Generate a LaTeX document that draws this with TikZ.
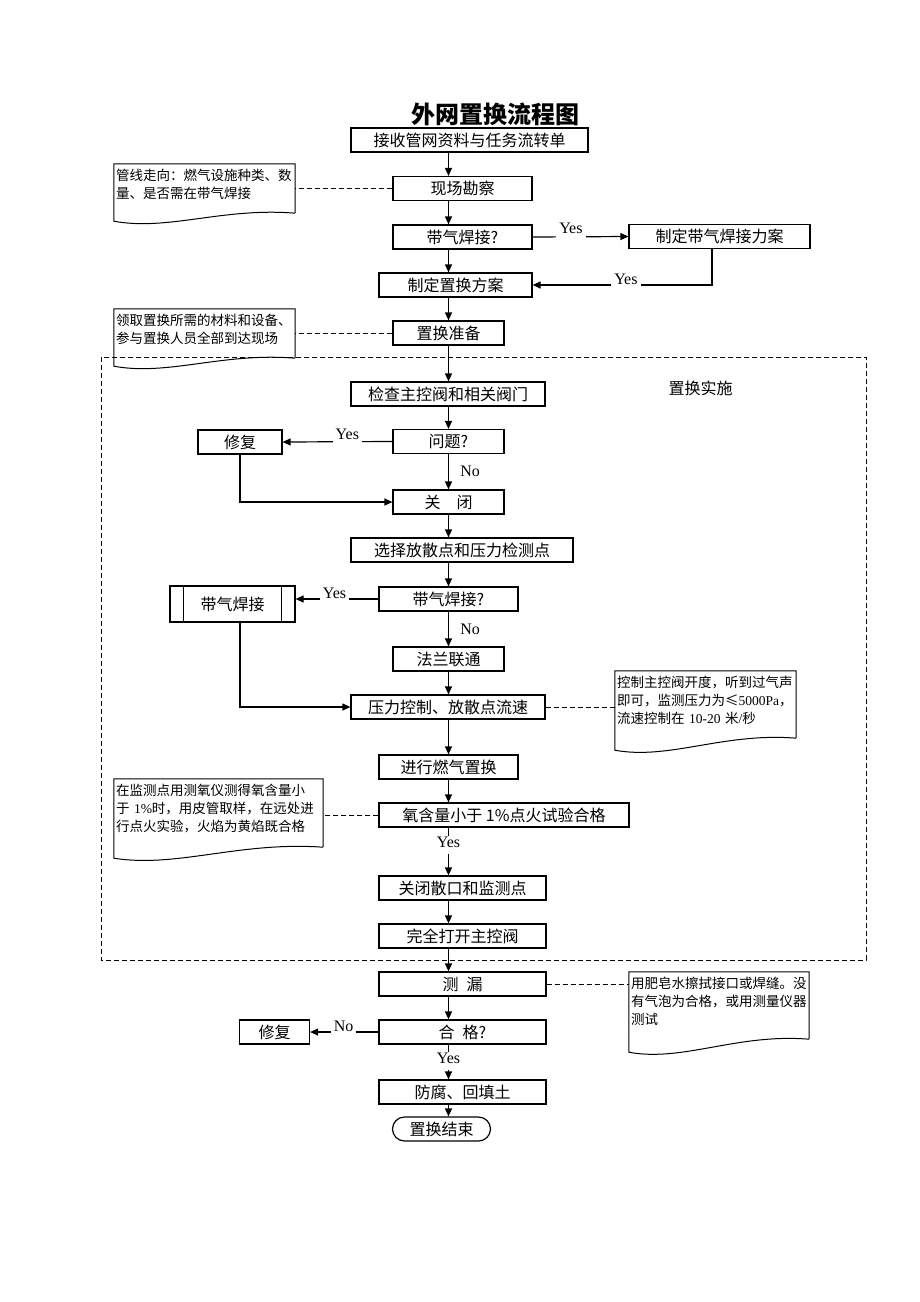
\documentclass[tikz,border=0pt]{standalone}
\usepackage{fontspec}
\setmainfont{Liberation Serif}
\newfontfamily\cjk{Noto Sans CJK SC}
\usepackage{tikz}
\usetikzlibrary{arrows.meta,positioning,calc}

\tikzset{
  procbox/.style={draw,line width=1.2pt,minimum height=24pt,inner sep=0pt,
    font=\cjk\fontsize{16}{18}\selectfont},
  arr/.style={line width=1.2pt,-{Triangle[length=8pt,width=7pt]}},
  plain/.style={line width=1.2pt},
  dashline/.style={line width=1pt,dash pattern=on 5pt off 3pt},
  noteframe/.style={inner sep=0pt},
  notetext/.style={anchor=north west,inner xsep=2pt,inner ysep=5pt,align=left,
    font=\cjk\fontsize{13.5}{18}\selectfont},
  yn/.style={fill=white,inner xsep=3pt,inner ysep=0pt,text height=12pt,text depth=6pt,
    font=\fontsize{16}{18}\selectfont},
  ynh/.style={yn,anchor=base},
}

% note with a wavy lower edge, #2 = how far the left corner hangs below
\newcommand{\wavenote}[2]{%
  \draw[line width=1pt] (#1.south east) -- (#1.north east) -- (#1.north west)
    -- ($(#1.south west)+(0,#2)$)
    .. controls ($(#1.south west)!0.3!(#1.south east)+(0,#2+10)$)
    and ($(#1.south west)!0.6!(#1.south east)+(0,-6)$) .. (#1.south east);}

\begin{document}
\begin{tikzpicture}[x=1pt,y=-1pt]

  \fill[white] (0,0) rectangle (920,1302);
  \coordinate (ax) at (448.5,0);

  \node[font=\cjk\fontsize{24}{28}\selectfont\bfseries] (title) at (495,114) {外网置换流程图};

  % main column
  \node[procbox,minimum width=237pt] (recv) at (469.5,140) {接收管网资料与任务流转单};
  \node[procbox,minimum width=139pt] (survey) at (462.5,188.5) {现场勘察};
  \node[procbox,minimum width=139pt] (weldq) at (462.5,237) {带气焊接?};
  \node[procbox,minimum width=181pt] (weldplan) at (719.5,236.5) {制定带气焊接力案};
  \node[procbox,minimum width=153pt] (plan) at (455.5,285) {制定置换方案};
  \node[procbox,minimum width=111pt] (prep) at (448.5,333) {置换准备};

  % implementation frame
  \draw[dashline] (101,357) rectangle (866,960);
  \node[font=\cjk\fontsize{16}{18}\selectfont] (stage) at (700.5,388) {置换实施};

  \node[procbox,minimum width=194pt] (check) at (448,394) {检查主控阀和相关阀门};
  \node[procbox,minimum width=111pt] (issue) at (448.5,441.5) {问题?};
  \node[procbox,minimum width=84pt] (fix1) at (240,442) {修复};
  \node[procbox,minimum width=111pt] (close) at (448.5,502) {关\hspace{1em}闭};
  \node[procbox,minimum width=222pt] (choose) at (462,550) {选择放散点和压力检测点};
  \node[procbox,minimum width=139pt] (weldq2) at (448.5,599) {带气焊接?};
  \node[procbox,minimum width=125pt,minimum height=36pt] (weld) at (232.5,604) {带气焊接};
  \draw[plain] ([xshift=14pt]weld.north west) -- ([xshift=14pt]weld.south west);
  \draw[plain] ([xshift=-14pt]weld.north east) -- ([xshift=-14pt]weld.south east);
  \node[procbox,minimum width=111pt] (flange) at (448.5,659) {法兰联通};
  \node[procbox,minimum width=194pt] (press) at (448,707) {压力控制、放散点流速};
  \node[procbox,minimum width=139pt] (purge) at (448.5,767) {进行燃气置换};
  \node[procbox,minimum width=250pt] (oxy) at (504,815) {氧含量小于 1\%点火试验合格};
  \node[procbox,minimum width=167pt] (shut) at (462.5,888) {关闭散口和监测点};
  \node[procbox,minimum width=167pt] (open) at (462.5,936) {完全打开主控阀};

  % after the frame
  \node[procbox,minimum width=167pt] (leak) at (462.5,984) {测\hspace{0.5em}漏};
  \node[procbox,minimum width=167pt] (pass) at (462.5,1032) {合\hspace{0.5em}格?};
  \node[procbox,minimum width=70pt] (fix2) at (274.5,1032) {修复};
  \node[procbox,minimum width=167pt] (backfill) at (462.5,1092) {防腐、回填土};
  \node[procbox,minimum width=98pt,rounded corners=12pt] (finish) at (441.5,1129) {置换结束};

  % notes
  \node[noteframe,minimum width=181pt,minimum height=49pt] (n1) at (204.5,188.5) {};
  \wavenote{n1}{8}
  \node[notetext,text width=177pt] (t1) at (n1.north west)
    {管线走向：燃气设施种类、数\\量、是否需在带气焊接};
  \node[noteframe,minimum width=181pt,minimum height=49pt] (n2) at (204.5,333.5) {};
  \wavenote{n2}{8}
  \node[notetext,text width=177pt] (t2) at (n2.north west)
    {领取置换所需的材料和设备、\\参与置换人员全部到达现场};
  \node[noteframe,minimum width=181pt,minimum height=67pt] (n3) at (705.5,704.5) {};
  \wavenote{n3}{12}
  \node[notetext,text width=177pt] (t3) at (n3.north west)
    {控制主控阀开度，听到过气声\\即可，监测压力为≤{\rmfamily 5000Pa}，\\流速控制在 {\rmfamily 10-20} 米{\rmfamily /}秒};
  \node[noteframe,minimum width=209pt,minimum height=68pt] (n4) at (218.5,813) {};
  \wavenote{n4}{11}
  \node[notetext,text width=205pt] (t4) at (n4.north west)
    {在监测点用测氧仪测得氧含量小\\于 {\rmfamily 1\%}时，用皮管取样，在远处进\\行点火实验，火焰为黄焰既合格};
  \node[noteframe,minimum width=180pt,minimum height=67pt] (n5) at (719,1005.5) {};
  \wavenote{n5}{13}
  \node[notetext,text width=176pt] (t5) at (n5.north west)
    {用肥皂水擦拭接口或焊缝。没\\有气泡为合格，或用测量仪器\\测试};

  % connectors
  \draw[arr] (recv.south -| ax) -- (survey.north -| ax);
  \draw[arr] (survey.south -| ax) -- (weldq.north -| ax);
  \draw[arr] (weldq.east) -- node[ynh,pos=0.4,yshift=3pt] {Yes} (weldplan.west);
  \draw[arr] (weldq.south -| ax) -- (plan.north -| ax);
  \draw[arr] ([xshift=-7.5pt]weldplan.south) |- node[ynh,pos=0.74,yshift=1pt] {Yes} (plan.east);
  \draw[arr] (plan.south -| ax) -- (prep.north -| ax);
  \draw[arr] (prep.south -| ax) -- (check.north -| ax);
  \draw[arr] (check.south -| ax) -- (issue.north -| ax);
  \draw[arr] (issue.west) -- node[ynh,pos=0.41,yshift=2pt] {Yes} (fix1.east);
  \draw[arr] (issue.south -| ax) -- node[anchor=west,xshift=8pt,font=\fontsize{16}{18}\selectfont] {No} (close.north -| ax);
  \draw[arr] (fix1.south) |- (close.west);
  \draw[arr] (close.south -| ax) -- (choose.north -| ax);
  \draw[arr] (choose.south -| ax) -- (weldq2.north -| ax);
  \draw[arr] (weldq2.west) -- node[ynh,pos=0.53,yshift=1pt] {Yes} (weldq2.west -| weld.east);
  \draw[arr] (weldq2.south -| ax) -- node[anchor=west,xshift=8pt,font=\fontsize{16}{18}\selectfont] {No} (flange.north -| ax);
  \draw[arr] (flange.south -| ax) -- (press.north -| ax);
  \draw[arr] ([xshift=7.5pt]weld.south) |- (press.west);
  \draw[arr] (press.south -| ax) -- (purge.north -| ax);
  \draw[arr] (purge.south -| ax) -- (oxy.north -| ax);
  \draw[arr] (oxy.south -| ax) -- node[yn,pos=0.36] {Yes} (shut.north -| ax);
  \draw[arr] (shut.south -| ax) -- (open.north -| ax);
  \draw[arr] (open.south -| ax) -- (leak.north -| ax);
  \draw[arr] (leak.south -| ax) -- (pass.north -| ax);
  \draw[arr] (pass.west) -- node[ynh,pos=0.51,yshift=1pt] {No} (fix2.east);
  \draw[arr] (pass.south -| ax) -- node[yn,pos=0.47] {Yes} (backfill.north -| ax);
  \draw[arr] (backfill.south -| ax) -- (finish.north -| ax);

  % dashed links to notes
  \draw[dashline] (survey.west) -- (survey.west -| n1.east);
  \draw[dashline] (prep.west) -- (prep.west -| n2.east);
  \draw[dashline] (press.east) -- (press.east -| n3.west);
  \draw[dashline] (oxy.west) -- (oxy.west -| n4.east);
  \draw[dashline] (leak.east) -- (leak.east -| n5.west);

\end{tikzpicture}
\end{document}
